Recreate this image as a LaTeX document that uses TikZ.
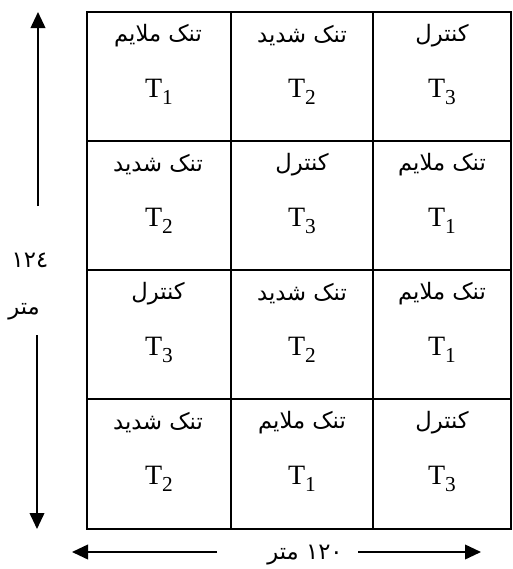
\documentclass[tikz,border=0pt]{standalone}
\usepackage{fontspec}
\setmainfont{Liberation Serif}
\newfontfamily\arabicfont[Script=Arabic]{DejaVu Sans}
\TeXXeTstate=1
\usetikzlibrary{arrows.meta}
\tikzset{
  gridline/.style={line width=2pt},
  dimline/.style={line width=1.3pt},
  tip/.style={-{Triangle[length=12pt,width=11pt]}},
  arlabel/.style={font=\arabicfont\fontsize{17}{20}\selectfont, inner sep=0pt},
  tlabel/.style={font=\fontsize{21}{24}\selectfont, inner sep=0pt},
}
\newcommand{\Tsub}[1]{T\raisebox{-5pt}{\fontsize{16}{18}\selectfont #1}}
\newcommand{\ar}[1]{{\beginR #1\endR}}
\begin{document}
\begin{tikzpicture}[x=0.75pt,y=-0.75pt]
\useasboundingbox (0,0) rectangle (512,569);
% grid
\draw[gridline] (87,12) rectangle (511,529);
\foreach \xx in {231,373} \draw[gridline] (\xx,12) -- (\xx,529);
\foreach \yy in {141,270,399} \draw[gridline] (87,\yy) -- (511,\yy);
% row 1
\node[arlabel] (a11) at (158,36) {\ar{تنک ملایم}};
\node[arlabel] (a12) at (302,36) {\ar{تنک شدید}};
\node[arlabel] (a13) at (442,36) {\ar{کنترل}};
\node[tlabel] (t11) at (159,92) {\Tsub{1}};
\node[tlabel] (t12) at (302,92) {\Tsub{2}};
\node[tlabel] (t13) at (442,92) {\Tsub{3}};
% row 2
\node[arlabel] (a21) at (158,165) {\ar{تنک شدید}};
\node[arlabel] (a22) at (302,165) {\ar{کنترل}};
\node[arlabel] (a23) at (442,165) {\ar{تنک ملایم}};
\node[tlabel] (t21) at (159,221) {\Tsub{2}};
\node[tlabel] (t22) at (302,221) {\Tsub{3}};
\node[tlabel] (t23) at (442,221) {\Tsub{1}};
% row 3
\node[arlabel] (a31) at (158,294) {\ar{کنترل}};
\node[arlabel] (a32) at (302,294) {\ar{تنک شدید}};
\node[arlabel] (a33) at (442,294) {\ar{تنک ملایم}};
\node[tlabel] (t31) at (159,350) {\Tsub{3}};
\node[tlabel] (t32) at (302,350) {\Tsub{2}};
\node[tlabel] (t33) at (442,350) {\Tsub{1}};
% row 4
\node[arlabel] (a41) at (158,423) {\ar{تنک شدید}};
\node[arlabel] (a42) at (302,423) {\ar{تنک ملایم}};
\node[arlabel] (a43) at (442,423) {\ar{کنترل}};
\node[tlabel] (t41) at (159,479) {\Tsub{2}};
\node[tlabel] (t42) at (302,479) {\Tsub{1}};
\node[tlabel] (t43) at (442,479) {\Tsub{3}};
% vertical dimension
\node[arlabel] (h1) at (30,260) {\ar{١٢٤}};
\node[arlabel] (h2) at (24,312) {\ar{متر}};
\coordinate (vtop) at (38,12);
\coordinate (vtopend) at (38,206);
\coordinate (vbot) at (37,529);
\coordinate (vbotstart) at (37,335);
\draw[dimline,tip] (vtopend) -- (vtop);
\draw[dimline,tip] (vbotstart) -- (vbot);
% horizontal dimension
\node[arlabel] (w) at (305,555) {\ar{\beginL ١٢٠\endL{} متر}};
\coordinate (hl) at (72,552);
\coordinate (hlend) at (217,552);
\coordinate (hr) at (481,552);
\coordinate (hrstart) at (358,552);
\draw[dimline,tip] (hlend) -- (hl);
\draw[dimline,tip] (hrstart) -- (hr);
\end{tikzpicture}
\end{document}
